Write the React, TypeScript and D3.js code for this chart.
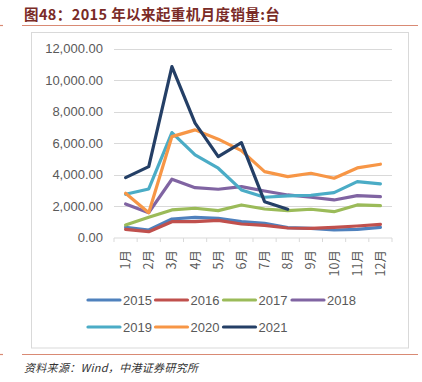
import React from "react";
import * as d3 from "d3";

const months = ["1月", "2月", "3月", "4月", "5月", "6月", "7月", "8月", "9月", "10月", "11月", "12月"];
const yTicks = [0, 2000, 4000, 6000, 8000, 10000, 12000];

const s2015 = [660, 489, 1187, 1295, 1231, 1016, 914, 640, 597, 489, 533, 660];
const s2016 = [533, 381, 1016, 1016, 1100, 870, 787, 616, 597, 660, 743, 851];
const s2017 = [806, 1295, 1759, 1867, 1714, 2076, 1822, 1714, 1803, 1651, 2076, 2032];
const s2018 = [2140, 1587, 3708, 3175, 3073, 3238, 2965, 2711, 2565, 2394, 2667, 2603];
const s2019 = [2755, 3092, 6667, 5251, 4406, 3029, 2565, 2648, 2692, 2857, 3556, 3410];
const s2020 = [2819, 1587, 6413, 6838, 6250, 5524, 4190, 3873, 4089, 3771, 4425, 4660];
const s2021 = [3810, 4508, 10857, 7263, 5143, 6032, 2286, 1803];

const seriesNames = ["2015", "2016", "2017", "2018", "2019", "2020", "2021"];
const seriesData = [s2015, s2016, s2017, s2018, s2019, s2020, s2021];
const seriesColors = ["#4F81BD", "#C0504D", "#9BBB59", "#8064A2", "#4BACC6", "#F79646", "#243F66"];

const FONT = "'Liberation Sans', Arial, sans-serif";
const CJK = "'Noto Sans CJK SC', 'Liberation Sans', sans-serif";

export default function App() {
  const W = 422, H = 382;
  const x = d3.scaleBand<string>().domain(months).range([114, 392]);
  const y = d3.scaleLinear().domain([0, 12000]).range([237.7, 48.5]);
  const line = d3
    .line<number>()
    .x((_, i) => (x(months[i]) as number) + x.bandwidth() / 2)
    .y((d) => y(d));
  const fmt = d3.format(",.2f");

  const legendRow1 = [0, 1, 2, 3];
  const legendRow2 = [4, 5, 6];
  const legendX = [88, 155.5, 223.5, 292];

  return (
    <svg width={W} height={H} style={{ position: "absolute", left: 0, top: 0, background: "#fff" }}>
      {/* title */}
      <text x={24} y={20} fontFamily={CJK} fontSize={14.5} fontWeight="bold" fill="#7a2b27" letterSpacing={0.4}>
        图48：2015 年以来起重机月度销量:台
      </text>
      <line x1={22} x2={418} y1={25.5} y2={25.5} stroke="#d98a74" strokeWidth={1.2} />
      <line x1={0} x2={3} y1={25.5} y2={25.5} stroke="#d98a74" strokeWidth={1.2} />

      {/* frame */}
      <rect x={31.5} y={32.5} width={377} height={315.5} fill="#fff" stroke="#d9d9d9" strokeWidth={1} />

      {/* grid */}
      {yTicks.map((t) => (
        <g key={t}>
          {t > 0 && (
            <line x1={114} x2={392} y1={Math.round(y(t)) + 0.5} y2={Math.round(y(t)) + 0.5} stroke="#d9d9d9" strokeWidth={1} />
          )}
          <text x={103} y={y(t)} dy="0.35em" textAnchor="end" fontFamily={FONT} fontSize={13} fill="#595959">
            {fmt(t)}
          </text>
        </g>
      ))}

      {/* x axis */}
      <line x1={114} x2={392} y1={238} y2={238} stroke="#d9d9d9" strokeWidth={1} />
      {d3.range(13).map((i) => {
        const xx = 114 + i * x.step();
        return <line key={i} x1={xx} x2={xx} y1={238} y2={242} stroke="#d9d9d9" strokeWidth={1} />;
      })}
      {months.map((m) => {
        const cx = (x(m) as number) + x.bandwidth() / 2;
        return (
          <text
            key={m}
            transform={`translate(${cx + 4.5},250) rotate(-90)`}
            textAnchor="end"
            fontFamily={CJK}
            fontSize={12.5}
            fill="#595959"
          >
            {m}
          </text>
        );
      })}

      {/* series */}
      {seriesData.map((d, i) => (
        <path
          key={seriesNames[i]}
          d={line(d) as string}
          fill="none"
          stroke={seriesColors[i]}
          strokeWidth={3.2}
          strokeLinejoin="round"
          strokeLinecap="round"
        />
      ))}

      {/* legend */}
      {[legendRow1, legendRow2].map((row, r) =>
        row.map((si, k) => {
          const lx = legendX[k];
          const ly = r === 0 ? 300 : 327;
          return (
            <g key={si}>
              <line x1={lx} x2={lx + 32} y1={ly} y2={ly} stroke={seriesColors[si]} strokeWidth={3.2} strokeLinecap="round" />
              <text x={lx + 35} y={ly} dy="0.36em" fontFamily={FONT} fontSize={13} fill="#595959">
                {seriesNames[si]}
              </text>
            </g>
          );
        })
      )}

      {/* footer */}
      <line x1={22} x2={418} y1={354.5} y2={354.5} stroke="#d98a74" strokeWidth={1.2} />
      <line x1={0} x2={3} y1={354.5} y2={354.5} stroke="#d98a74" strokeWidth={1.2} />
      <text x={24} y={372} fontFamily={CJK} fontSize={11} fontStyle="italic" fill="#333" letterSpacing={0.3}>
        资料来源：Wind，中港证券研究所
      </text>
    </svg>
  );
}
